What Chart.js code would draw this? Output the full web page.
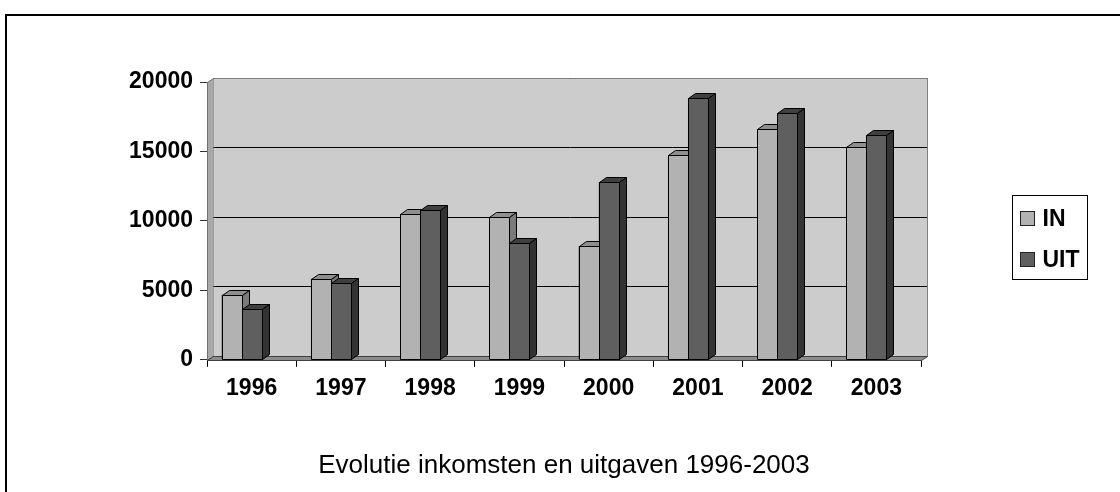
<!DOCTYPE html>
<html>
<head>
<meta charset="utf-8">
<title>Evolutie inkomsten en uitgaven 1996-2003</title>
<script src="https://cdn.jsdelivr.net/npm/chart.js@4.4.1/dist/chart.umd.min.js"></script>
<style>
  html, body { margin: 0; padding: 0; background: #fff; }
  #wrap { width: 1120px; height: 492px; }
</style>
</head>
<body>
<div id="wrap"><canvas id="chart" width="1120" height="492"></canvas></div>
<script>
// gegevens
const jaren = ['1996', '1997', '1998', '1999', '2000', '2001', '2002', '2003'];
const inkomsten = [4700, 5850, 10500, 10300, 8200, 14750, 16600, 15350];
const uitgaven = [3650, 5500, 10750, 8400, 12800, 18850, 17750, 16150];
const yTicks = [0, 5000, 10000, 15000, 20000];
const reeksNamen = ['IN', 'UIT'];

// kleuren: voorkant, bovenkant, zijkant
const kleurVoor = ['#b2b2b2', '#5f5f5f'];
const kleurBoven = ['#8e8e8e', '#3f3f3f'];
const kleurZij = ['#7a7a7a', '#333333'];

const FONT = "'Liberation Sans', Arial, Helvetica, sans-serif";
const DX = 6, DY = 4;   // diepte van de wanden
const BX = 7, BY = 5;   // diepte van de staven
const SHIFT = 0.112;    // staven staan iets links van het midden van de categorie

function poly(ctx, pts, fill, stroke) {
  ctx.beginPath();
  pts.forEach(([px, py], i) => (i ? ctx.lineTo(px, py) : ctx.moveTo(px, py)));
  ctx.closePath();
  if (fill) { ctx.fillStyle = fill; ctx.fill(); }
  if (stroke) { ctx.strokeStyle = stroke; ctx.lineWidth = 1; ctx.stroke(); }
}

function barShift(chart) {
  const x = chart.scales.x;
  return -(x.getPixelForValue(1) - x.getPixelForValue(0)) * SHIFT;
}

const excel3d = {
  id: 'excel3d',
  beforeDraw(chart) {
    const { ctx, width, height } = chart;
    ctx.save();
    ctx.fillStyle = '#fff';
    ctx.fillRect(0, 0, width, height);
    // kader rond de grafiek
    ctx.strokeStyle = '#000';
    ctx.lineWidth = 2;
    ctx.beginPath();
    ctx.moveTo(6, height);
    ctx.lineTo(6, 15);
    ctx.lineTo(width, 15);
    ctx.stroke();
    ctx.restore();
  },
  beforeDatasetsDraw(chart) {
    const { ctx, chartArea: a, scales: { y } } = chart;
    const L = Math.round(a.left) + 0.5, R = Math.round(a.right) + 0.5;
    const T = Math.round(a.top) + 0.5, B = Math.round(a.bottom) + 0.5;
    ctx.save();
    // linkerwand
    poly(ctx, [[L, B], [L, T], [L + DX, T - DY], [L + DX, B - DY]], '#a8a8a8', '#707070');
    // achterwand
    ctx.fillStyle = '#cccccc';
    ctx.fillRect(L + DX, T - DY, R - L, B - T);
    // rasterlijnen op de achterwand
    ctx.strokeStyle = '#000';
    ctx.lineWidth = 1;
    yTicks.forEach((v) => {
      const py = Math.round(y.getPixelForValue(v) - DY) + 0.5;
      ctx.beginPath();
      ctx.moveTo(L + DX, py);
      ctx.lineTo(R + DX, py);
      ctx.stroke();
    });
    ctx.strokeStyle = '#808080';
    ctx.beginPath();
    ctx.moveTo(L + DX, T - DY);
    ctx.lineTo(R + DX, T - DY);
    ctx.lineTo(R + DX, B - DY);
    ctx.stroke();
    // vloer
    poly(ctx, [[L, B], [R, B], [R + DX, B - DY], [L + DX, B - DY]], '#8c8c8c', '#404040');
    ctx.restore();

    ctx.save();
    ctx.translate(Math.round(barShift(chart)), 0);
  },
  afterDatasetsDraw(chart) {
    const { ctx } = chart;
    chart.data.datasets.forEach((ds, i) => {
      chart.getDatasetMeta(i).data.forEach((bar) => {
        const p = bar.getProps(['x', 'y', 'base', 'width'], true);
        const l = Math.round(p.x - p.width / 2) + 0.5;
        const r = Math.round(p.x + p.width / 2) + 0.5;
        const t = Math.round(p.y) + 0.5;
        const b = Math.round(p.base) + 0.5;
        poly(ctx, [[l, b], [l, t], [r, t], [r, b]], kleurVoor[i], '#000');
        poly(ctx, [[l, t], [l + BX, t - BY], [r + BX, t - BY], [r, t]], kleurBoven[i], '#000');
        poly(ctx, [[r, t], [r + BX, t - BY], [r + BX, b - BY], [r, b]], kleurZij[i], '#000');
      });
    });
    ctx.restore();
  },
  afterDraw(chart) {
    // legenda
    const { ctx, chartArea: a } = chart;
    const bx = Math.round(a.right) + 91.5, by = 195.5, bw = 75, bh = 84;
    ctx.save();
    ctx.fillStyle = '#fff';
    ctx.fillRect(bx, by, bw, bh);
    ctx.strokeStyle = '#000';
    ctx.lineWidth = 1;
    ctx.strokeRect(bx, by, bw, bh);
    ctx.font = 'bold 23px ' + FONT;
    ctx.textBaseline = 'middle';
    ctx.textAlign = 'left';
    chart.data.datasets.forEach((ds, i) => {
      const cy = by + 23 + i * 41;
      ctx.fillStyle = kleurVoor[i];
      ctx.fillRect(bx + 8, cy - 7, 14, 14);
      ctx.strokeStyle = '#222';
      ctx.strokeRect(bx + 8, cy - 7, 14, 14);
      ctx.fillStyle = '#000';
      ctx.fillText(ds.label, bx + 30, cy + 1);
    });
    ctx.restore();
  }
};

new Chart(document.getElementById('chart'), {
  type: 'bar',
  data: {
    labels: jaren,
    datasets: [
      { label: reeksNamen[0], data: inkomsten, backgroundColor: kleurVoor[0], borderColor: '#000', borderWidth: 1 },
      { label: reeksNamen[1], data: uitgaven, backgroundColor: kleurVoor[1], borderColor: '#000', borderWidth: 1 },
    ],
  },
  options: {
    responsive: false,
    devicePixelRatio: 1,
    animation: false,
    categoryPercentage: 0.45,
    barPercentage: 1,
    layout: { padding: { top: 82, right: 199, bottom: 0, left: 0 } },
    plugins: {
      legend: { display: false },
      tooltip: { enabled: false },
      title: {
        display: true,
        position: 'bottom',
        fullSize: false,
        text: 'Evolutie inkomsten en uitgaven 1996-2003',
        color: '#000',
        font: { family: FONT, size: 26, weight: 'normal' },
        padding: { top: 50, bottom: 11 },
      },
    },
    scales: {
      x: {
        offset: true,
        grid: { offset: true, drawOnChartArea: false, tickLength: 7, color: '#000' },
        border: { color: '#000' },
        ticks: { color: '#000', padding: 8, maxRotation: 0, font: { family: FONT, size: 23, weight: 'bold' } },
        afterFit: (s) => { s.height = 40; },
      },
      y: {
        min: 0,
        max: 20000,
        grid: { drawOnChartArea: false, tickLength: 7, color: '#333' },
        border: { color: '#666' },
        ticks: {
          color: '#000',
          padding: 7,
          font: { family: FONT, size: 23, weight: 'bold' },
          callback: (v) => String(v),
        },
        afterBuildTicks: (s) => { s.ticks = yTicks.map((v) => ({ value: v })); },
        afterFit: (s) => { s.width = 207; },
      },
    },
  },
  plugins: [excel3d],
});
</script>
</body>
</html>
